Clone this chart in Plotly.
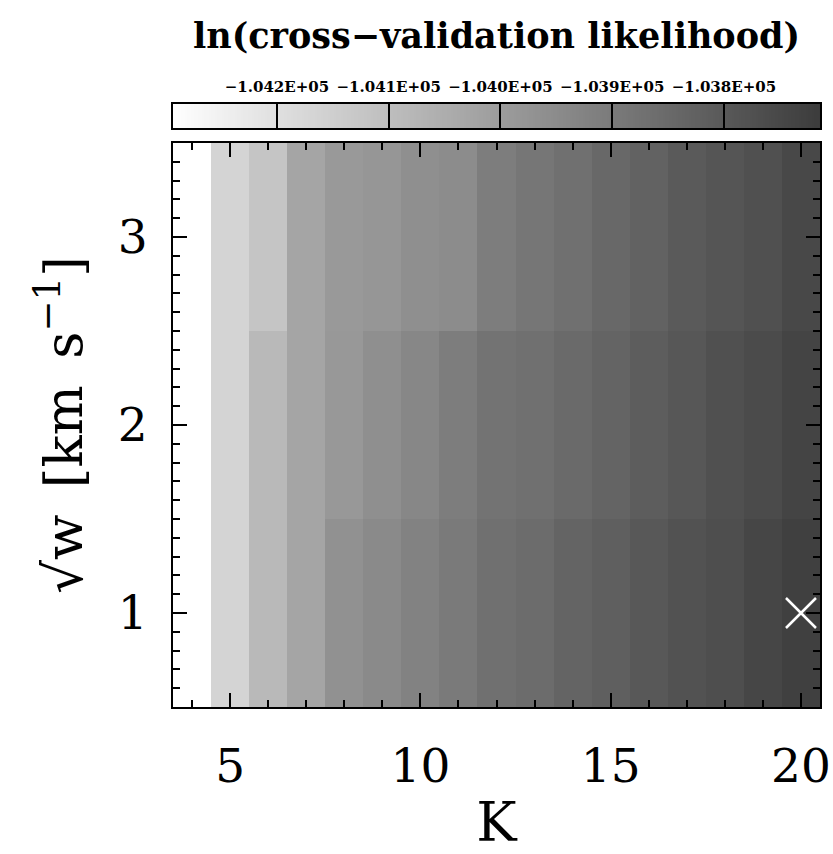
import numpy as np
import plotly.graph_objects as go

# ---- data ----
K_values = list(range(4, 21))
sqrt_w_values = [1, 2, 3]

# ln(cross-validation likelihood), rows = sqrt(w) = 1, 2, 3 ; columns = K = 4..20
lnL_w1 = [-104310, -104165, -104085, -104026, -103966, -103946, -103922, -103898, -103868,
          -103856, -103833, -103818, -103797, -103779, -103767, -103744, -103726]
lnL_w2 = [-104310, -104165, -104085, -104026, -103987, -103960, -103937, -103907, -103877,
          -103868, -103850, -103833, -103812, -103794, -103773, -103758, -103738]
lnL_w3 = [-104310, -104165, -104121, -104026, -103990, -103981, -103960, -103951, -103907,
          -103886, -103868, -103845, -103827, -103803, -103788, -103773, -103749]

best_K = [20]
best_sqrt_w = [1]

cbar_min = -104293
cbar_max = -103714
cbar_tickvals = [-104200, -104100, -104000, -103900, -103800]
cbar_ticktext = ["\u22121.042E+05", "\u22121.041E+05", "\u22121.040E+05", "\u22121.039E+05", "\u22121.038E+05"]

x_tickvals = [5, 10, 15, 20]
y_tickvals = [1, 2, 3]

SERIF = "DejaVu Serif"

fig = go.Figure()

fig.add_trace(go.Heatmap(
    x=K_values, y=sqrt_w_values, z=[lnL_w1, lnL_w2, lnL_w3],
    coloraxis="coloraxis", xaxis="x", yaxis="y", hoverinfo="skip"))

fig.add_trace(go.Scatter(
    x=best_K, y=best_sqrt_w, mode="markers",
    marker=dict(symbol="x-thin", size=30, line=dict(color="white", width=2.5)),
    xaxis="x", yaxis="y", showlegend=False, hoverinfo="skip", cliponaxis=False))

# colour ramp of the colour bar, drawn on its own axis
ramp = np.linspace(cbar_min, cbar_max, 300)
fig.add_trace(go.Heatmap(
    x=ramp, y=[0], z=[ramp], coloraxis="coloraxis",
    xaxis="x2", yaxis="y2", hoverinfo="skip"))

H = 854
top_m, bot_m = 100, 147
ph = H - top_m - bot_m


def frac(py):
    return (H - bot_m - py) / ph


fig.update_layout(
    width=833, height=854,
    margin=dict(l=173, r=13, t=top_m, b=bot_m),
    paper_bgcolor="white", plot_bgcolor="white",
    showlegend=False,
    coloraxis=dict(colorscale=[[0, "#ffffff"], [1, "#3c3c3c"]],
                   cmin=cbar_min, cmax=cbar_max, showscale=False),
    title=dict(text="ln(cross\u2212validation likelihood)",
               font=dict(family=SERIF, size=35, color="black", weight="bold"),
               x=0.5, xref="paper", xanchor="center",
               y=1 - 36 / H, yref="container", yanchor="middle"),
    xaxis=dict(range=[3.5, 20.5], domain=[0, 1], anchor="y", automargin=False,
               tickmode="array", tickvals=x_tickvals,
               ticks="inside", ticklen=14, tickwidth=2, tickcolor="black",
               minor=dict(dtick=1, tick0=0, ticks="inside", ticklen=7, tickwidth=2, tickcolor="black"),
               showline=True, linecolor="black", linewidth=2, mirror="allticks",
               showgrid=False, zeroline=False,
               tickfont=dict(family=SERIF, size=47, color="black"),
               ticklabelstandoff=17,
               title=dict(text="K", font=dict(family=SERIF, size=54, color="black"), standoff=34)),
    yaxis=dict(range=[0.5, 3.5], domain=[0, frac(143)], anchor="x", automargin=False,
               tickmode="array", tickvals=y_tickvals,
               ticks="inside", ticklen=14, tickwidth=2, tickcolor="black",
               minor=dict(dtick=0.1, tick0=0, ticks="inside", ticklen=7, tickwidth=2, tickcolor="black"),
               showline=True, linecolor="black", linewidth=2, mirror="allticks",
               showgrid=False, zeroline=False,
               tickfont=dict(family=SERIF, size=47, color="black"),
               ticklabelstandoff=14,
               title=dict(text="\u221aw\u2002[km\u2002s<sup>\u22121</sup>]",
                          font=dict(family=SERIF, size=53, color="black"), standoff=18)),
    xaxis2=dict(range=[cbar_min, cbar_max], domain=[0, 1], anchor="y2", side="top", automargin=False,
                tickmode="array", tickvals=cbar_tickvals, ticktext=cbar_ticktext,
                tickangle=0,
                ticks="inside", ticklen=24, tickwidth=2, tickcolor="black",
                showline=True, linecolor="black", linewidth=2, mirror=True,
                showgrid=False, zeroline=False,
                tickfont=dict(family=SERIF, size=15, color="black", weight="bold"),
                ticklabelstandoff=4),
    yaxis2=dict(range=[-0.5, 0.5], domain=[frac(128), frac(104)], anchor="x2", automargin=False,
                showticklabels=False, ticks="",
                showline=True, linecolor="black", linewidth=2, mirror=True,
                showgrid=False, zeroline=False),
)

fig.write_html("out.html")
